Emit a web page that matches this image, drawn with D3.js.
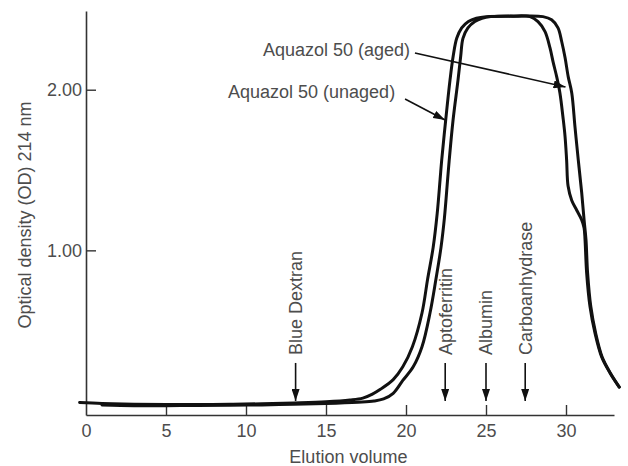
<!DOCTYPE html>
<html><head><meta charset="utf-8">
<script src="https://cdn.jsdelivr.net/npm/d3@7"></script>
<style>
html,body{margin:0;padding:0;background:#fff;}
svg{display:block;}
text{font-family:"Liberation Sans",Arial,Helvetica,sans-serif;}
</style></head><body>
<svg id="chart" width="628" height="466"></svg>
<script>
// ---- data ----
const xTicks = [0, 5, 10, 15, 20, 25, 30];
const yTicks = [1, 2];
const xTitle = "Elution volume";
const yTitle = "Optical density (OD) 214 nm";

const unagedVolume = [-0.4, 1, 3, 5, 7, 9, 11, 13, 15, 16.5, 17.3, 17.9, 18.4, 19.2, 19.8, 20.4, 21.0, 21.35, 21.7, 21.95, 22.13, 22.23, 22.48, 22.75, 22.95, 23.17, 23.48, 23.9, 24.4, 25.0, 26.5, 27.75, 28.25, 28.69, 29.0, 29.2, 29.42, 29.62, 29.81, 29.94, 30.04, 30.13, 30.36, 30.67, 30.98, 31.13, 31.19, 31.29, 31.5, 31.81, 32.23, 32.75, 33.33];
const unagedOD     = [0.053, 0.047, 0.042, 0.040, 0.040, 0.042, 0.045, 0.050, 0.057, 0.068, 0.080, 0.105, 0.135, 0.195, 0.275, 0.40, 0.61, 0.82, 1.02, 1.23, 1.44, 1.56, 1.81, 2.06, 2.21, 2.32, 2.385, 2.425, 2.445, 2.455, 2.458, 2.455, 2.424, 2.362, 2.26, 2.17, 2.08, 1.98, 1.83, 1.71, 1.56, 1.40, 1.31, 1.25, 1.19, 1.14, 1.065, 0.86, 0.65, 0.486, 0.336, 0.237, 0.149];

const agedVolume = [1.0, 3, 5, 7, 9, 11, 13, 15, 17, 18.0, 18.6, 19.2, 19.8, 20.45, 21.0, 21.5, 21.87, 22.19, 22.4, 22.6, 22.7, 22.94, 23.25, 23.42, 23.56, 23.87, 24.3, 24.75, 25.3, 27.0, 28.56, 29.1, 29.5, 29.73, 29.94, 30.14, 30.36, 30.56, 30.77, 30.98, 31.13, 31.25, 31.35, 31.55, 31.85, 32.26, 32.77, 33.33];
const agedOD     = [0.037, 0.033, 0.033, 0.034, 0.035, 0.038, 0.042, 0.047, 0.055, 0.062, 0.075, 0.11, 0.19, 0.275, 0.40, 0.61, 0.82, 1.02, 1.20, 1.44, 1.56, 1.81, 2.06, 2.21, 2.32, 2.385, 2.425, 2.445, 2.455, 2.458, 2.455, 2.435, 2.385, 2.30, 2.20, 2.08, 1.98, 1.77, 1.56, 1.36, 1.19, 1.065, 0.86, 0.65, 0.486, 0.336, 0.237, 0.149];

const markerNames   = ["Blue Dextran", "Aptoferritin", "Albumin", "Carboanhydrase"];
const markerVolumes = [13.1, 22.45, 25.0, 27.45];

const seriesLabels = ["Aquazol 50 (aged)", "Aquazol 50 (unaged)"];

// ---- layout (data units) ----
const labelAnchors = [[11.06, 2.247], [8.875, 1.986]];
const arrowFrom    = [[20.56, 2.229], [19.94, 1.942]];
const arrowTo      = [[29.97, 2.017], [22.44, 1.811]];
const markerTextBase = 0.349, markerArrowTop = 0.299, markerArrowTip = 0.062;

// ---- scales ----
const svg = d3.select("#chart");
const x = d3.scaleLinear().domain([0, 33]).range([86, 614]);
const y = d3.scaleLinear().domain([-0.025, 2.49]).range([415, 11]);
const textColor = "#4d4d4d";
const fs = "18px";

svg.append("defs").append("marker")
  .attr("id", "ah").attr("viewBox", "0 -4 12 8").attr("refX", 12).attr("refY", 0)
  .attr("markerWidth", 12).attr("markerHeight", 8).attr("markerUnits", "userSpaceOnUse")
  .attr("orient", "auto")
  .append("path").attr("d", "M0,-4L12,0L0,4Z").attr("fill", "#111");

// axes
const gx = svg.append("g").attr("transform", `translate(0,${y(-0.025)})`)
  .call(d3.axisBottom(x).tickValues(xTicks).tickSize(-10).tickSizeOuter(0).tickPadding(9));
const gy = svg.append("g").attr("transform", `translate(${x(0)},0)`)
  .call(d3.axisLeft(y).tickValues(yTicks).tickFormat(d3.format(".2f")).tickSize(-10).tickSizeOuter(0).tickPadding(4));
[gx, gy].forEach(g => {
  g.select(".domain").attr("stroke", "#333").attr("stroke-width", 1.6);
  g.selectAll(".tick line").attr("stroke", "#333").attr("stroke-width", 1.4);
  g.selectAll(".tick text").attr("fill", textColor).style("font-size", fs)
   .style("font-family", '"Liberation Sans",Arial,sans-serif');
});
gx.selectAll(".tick").filter(d => d === 0).select("line").remove();

svg.append("text").attr("x", x(16.4)).attr("y", 463)
  .attr("text-anchor", "middle").attr("fill", textColor).style("font-size", fs).text(xTitle);
svg.append("text").attr("transform", `translate(25,${y(1.22)}) rotate(-90)`)
  .attr("text-anchor", "middle").attr("dy", "0.35em").attr("fill", textColor).style("font-size", fs).text(yTitle);

// curves
const line = d3.line().x(d => x(d[0])).y(d => y(d[1])).curve(d3.curveCatmullRom.alpha(0.5));
const series = [d3.zip(unagedVolume, unagedOD), d3.zip(agedVolume, agedOD)];
svg.selectAll("path.curve").data(series).join("path").attr("class", "curve")
  .attr("d", line).attr("fill", "none").attr("stroke", "#111")
  .attr("stroke-width", 3).attr("stroke-linejoin", "round").attr("stroke-linecap", "round");

// marker proteins
markerNames.forEach((name, i) => {
  const mx = x(markerVolumes[i]);
  svg.append("text").attr("transform", `translate(${mx},${y(markerTextBase)}) rotate(-90)`)
    .attr("dy", "0.35em").attr("fill", textColor).style("font-size", fs).text(name);
  svg.append("line").attr("x1", mx).attr("x2", mx)
    .attr("y1", y(markerArrowTop)).attr("y2", y(markerArrowTip))
    .attr("stroke", "#111").attr("stroke-width", 1.6).attr("marker-end", "url(#ah)");
});

// series labels with arrows
seriesLabels.forEach((lab, i) => {
  svg.append("text").attr("x", x(labelAnchors[i][0])).attr("y", y(labelAnchors[i][1]))
    .attr("dy", "0.35em").attr("fill", textColor).style("font-size", fs).text(lab);
  svg.append("line")
    .attr("x1", x(arrowFrom[i][0])).attr("y1", y(arrowFrom[i][1]))
    .attr("x2", x(arrowTo[i][0])).attr("y2", y(arrowTo[i][1]))
    .attr("stroke", "#111").attr("stroke-width", 1.6).attr("marker-end", "url(#ah)");
});
</script>
</body></html>
